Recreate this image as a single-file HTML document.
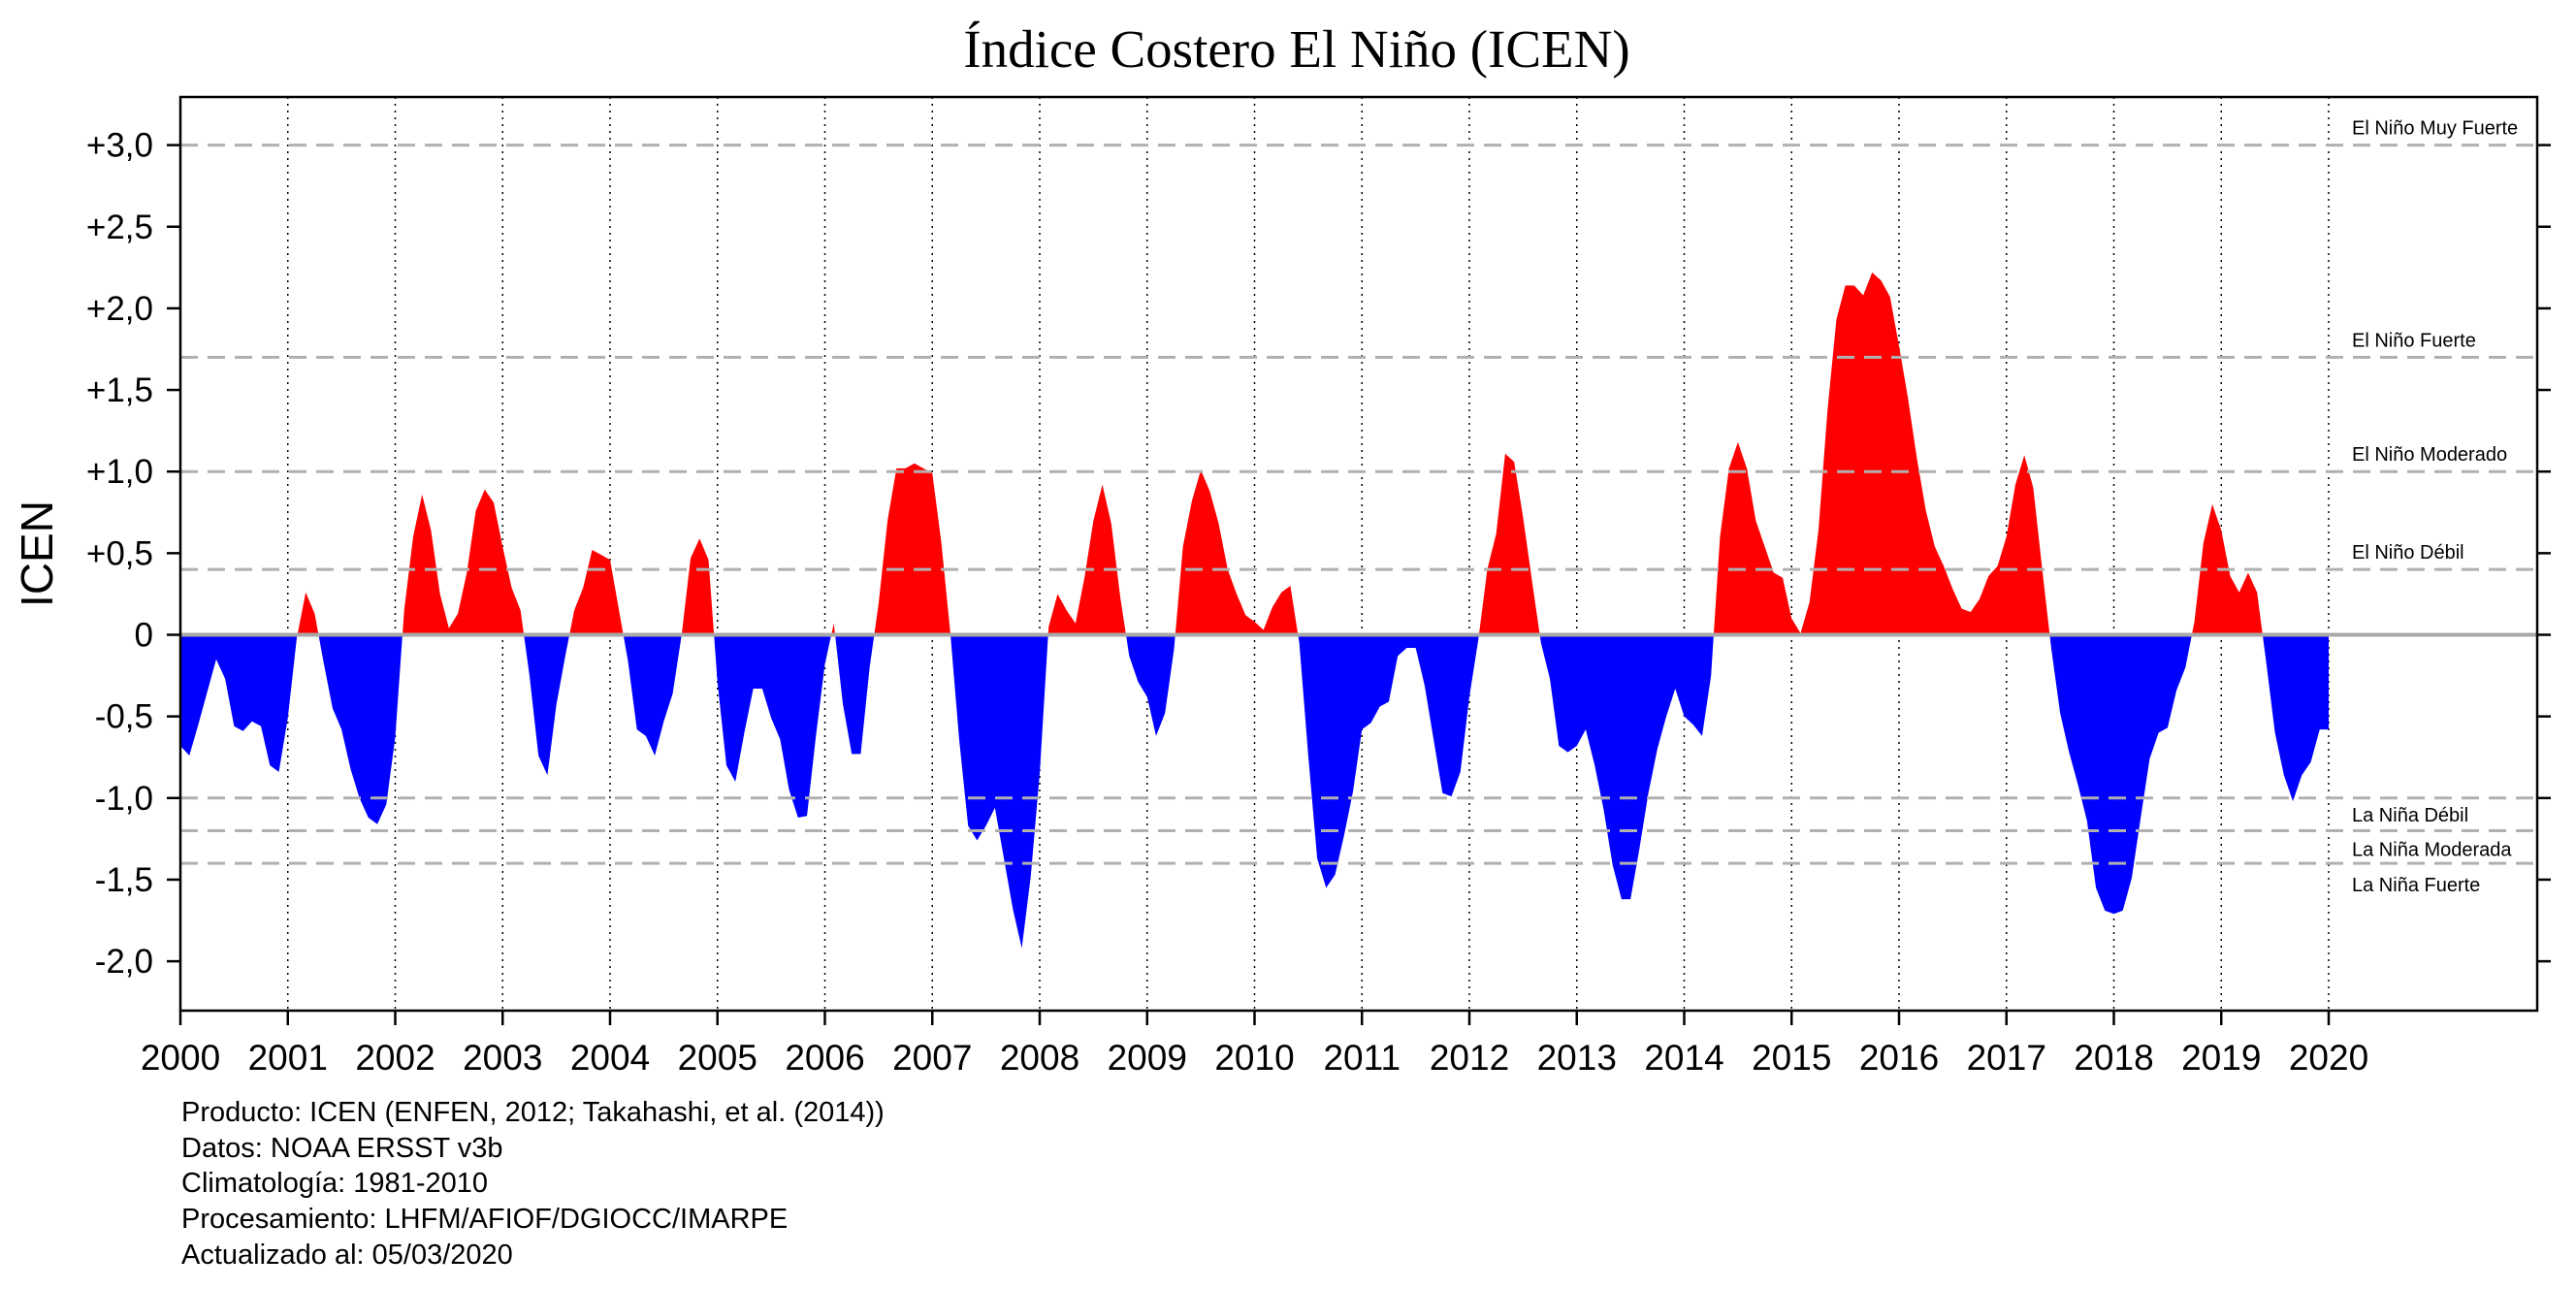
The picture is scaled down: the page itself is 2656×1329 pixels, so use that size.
<!DOCTYPE html>
<html><head><meta charset="utf-8"><style>
html,body{margin:0;padding:0;background:#fff;}
svg{display:block;}
</style></head><body>
<svg id="chart" width="2656" height="1329" xmlns="http://www.w3.org/2000/svg" font-family="'Liberation Sans', sans-serif">
<rect width="2656" height="1329" fill="#fff"/>
<text x="1337" y="69" text-anchor="middle" font-family="'Liberation Serif', serif" font-size="55">Índice Costero El Niño (ICEN)</text>
<text transform="translate(54,571) rotate(-90)" text-anchor="middle" font-size="46">ICEN</text>
<g id="footer" font-size="29">
<text x="187" y="1156">Producto: ICEN (ENFEN, 2012; Takahashi, et al. (2014))</text>
<text x="187" y="1193">Datos: NOAA ERSST v3b</text>
<text x="187" y="1229">Climatología: 1981-2010</text>
<text x="187" y="1266">Procesamiento: LHFM/AFIOF/DGIOCC/IMARPE</text>
<text x="187" y="1303">Actualizado al: 05/03/2020</text>
</g>
<g id="plot"></g>
</svg>
<script>
const years = [2000,2001,2002,2003,2004,2005,2006,2007,2008,2009,2010,2011,2012,2013,2014,2015,2016,2017,2018,2019,2020];
const yTicks = [-2.0,-1.5,-1.0,-0.5,0,0.5,1.0,1.5,2.0,2.5,3.0];
const yTickLabels = ["-2,0","-1,5","-1,0","-0,5","0","+0,5","+1,0","+1,5","+2,0","+2,5","+3,0"];
const thresholdValues = [3.0,1.7,1.0,0.4,-1.0,-1.2,-1.4];
const thresholdLabels = ["El Niño Muy Fuerte","El Niño Fuerte","El Niño Moderado","El Niño Débil","La Niña Débil","La Niña Moderada","La Niña Fuerte"];
const icenValues = [
-0.68,-0.74,-0.55,-0.35,-0.15,-0.27,-0.56,-0.59,-0.53,-0.56,-0.80,-0.84,
-0.51,-0.02,0.26,0.13,-0.17,-0.45,-0.58,-0.82,-1.00,-1.12,-1.16,-1.04,
-0.63,0.15,0.60,0.86,0.64,0.25,0.04,0.13,0.38,0.76,0.89,0.81,
0.54,0.29,0.15,-0.25,-0.74,-0.86,-0.43,-0.13,0.15,0.29,0.52,0.49,
0.46,0.15,-0.16,-0.58,-0.62,-0.74,-0.53,-0.36,0.00,0.47,0.59,0.46,
-0.29,-0.80,-0.90,-0.60,-0.33,-0.33,-0.51,-0.64,-0.95,-1.12,-1.11,-0.62,
-0.18,0.07,-0.42,-0.73,-0.73,-0.20,0.19,0.70,1.02,1.02,1.05,1.02,
0.99,0.57,0.02,-0.64,-1.17,-1.26,-1.17,-1.06,-1.37,-1.68,-1.92,-1.48,
-0.85,0.05,0.25,0.15,0.07,0.35,0.70,0.92,0.68,0.23,-0.13,-0.29,
-0.38,-0.62,-0.48,-0.09,0.54,0.82,1.01,0.88,0.68,0.40,0.25,0.12,
0.08,0.03,0.17,0.26,0.30,-0.05,-0.74,-1.37,-1.55,-1.47,-1.23,-0.96,
-0.58,-0.54,-0.44,-0.41,-0.13,-0.08,-0.08,-0.31,-0.64,-0.97,-0.99,-0.84,
-0.38,-0.03,0.40,0.62,1.11,1.06,0.72,0.33,-0.05,-0.27,-0.68,-0.72,
-0.68,-0.58,-0.80,-1.07,-1.41,-1.62,-1.62,-1.31,-0.97,-0.70,-0.50,-0.33,
-0.50,-0.55,-0.62,-0.25,0.60,1.02,1.18,1.02,0.70,0.54,0.38,0.35,
0.10,0.01,0.20,0.64,1.37,1.93,2.14,2.14,2.08,2.22,2.17,2.07,
1.77,1.45,1.08,0.76,0.54,0.42,0.28,0.16,0.14,0.22,0.36,0.42,
0.60,0.92,1.10,0.90,0.40,-0.08,-0.48,-0.72,-0.92,-1.14,-1.55,-1.69,
-1.71,-1.69,-1.49,-1.12,-0.76,-0.60,-0.57,-0.34,-0.20,0.08,0.56,0.80,
0.64,0.36,0.26,0.38,0.26,-0.16,-0.60,-0.86,-1.02,-0.86,-0.78,-0.58,
-0.58];

const NS='http://www.w3.org/2000/svg';
const L=186,R=2616,T=100,B=1042;
const X0=2000, XPY=110.75, Y0=654.5, YPU=168.3;
const xs = t => L + (t - X0)*XPY;
const ys = v => Y0 - v*YPU;
const g=document.getElementById('plot');
function mk(tag, attrs, parent){const e=document.createElementNS(NS,tag);for(const k in attrs)e.setAttribute(k,attrs[k]);(parent||g).appendChild(e);return e;}

const defs=mk('defs',{});
const cpA=mk('clipPath',{id:'above'},defs); mk('rect',{x:L,y:T,width:R-L,height:ys(0)-T},cpA);
const cpB=mk('clipPath',{id:'below'},defs); mk('rect',{x:L,y:ys(0),width:R-L,height:B-ys(0)},cpB);

years.forEach((yr,i)=>{ if(i===0) return;
  const ln=mk('line',{x1:xs(yr),x2:xs(yr),y1:T,y2:B,stroke:'#000','stroke-width':1.5,'stroke-dasharray':'2 5'});
  
  
});

let pts=[[xs(X0),ys(0)]];
icenValues.forEach((v,i)=>pts.push([xs(X0+i/12),ys(v)]));
pts.push([xs(X0+(icenValues.length-1)/12),ys(0)]);
const d='M'+pts.map(p=>p[0].toFixed(2)+','+p[1].toFixed(2)).join('L')+'Z';
const pos=mk('path',{d:d,fill:'#ff0000','clip-path':'url(#above)'});


const neg=mk('path',{d:d,fill:'#0000ff','clip-path':'url(#below)'});



thresholdValues.forEach((v,i)=>{
  const ln=mk('line',{x1:L,x2:R,y1:ys(v),y2:ys(v),stroke:'#b0b0b0','stroke-width':3,'stroke-dasharray':'18 10'});
  
  
  const ty = v>0 ? ys(v)-11 : ys(v)+ (v===-1.0?24:(v===-1.2?26:29));
  const tx=mk('text',{x:2425,y:ty,'font-size':20});
  tx.textContent=thresholdLabels[i];
  
  
});

const z=mk('line',{x1:L,x2:R,y1:ys(0),y2:ys(0),stroke:'#a8a8a8','stroke-width':4});



const fr=mk('rect',{x:L,y:T,width:R-L,height:B-T,fill:'none',stroke:'#000','stroke-width':2.5});



yTicks.forEach((v,i)=>{
  const y=ys(v);
  const t1=mk('line',{x1:L-14,x2:L,y1:y,y2:y,stroke:'#000','stroke-width':2.5});
  
  
  const t2=mk('line',{x1:R,x2:R+14,y1:y,y2:y,stroke:'#000','stroke-width':2.5});
  
  
  const lb=mk('text',{x:158,y:y+12,'text-anchor':'end','font-size':35});
  lb.textContent=yTickLabels[i];
  
  
});

years.forEach(yr=>{
  const x=xs(yr);
  const t=mk('line',{x1:x,x2:x,y1:B,y2:B+15,stroke:'#000','stroke-width':2.5});
  
  
  const lb=mk('text',{x:x,y:1103,'text-anchor':'middle','font-size':37});
  lb.textContent=String(yr);
  
  
});
</script>
</body></html>
